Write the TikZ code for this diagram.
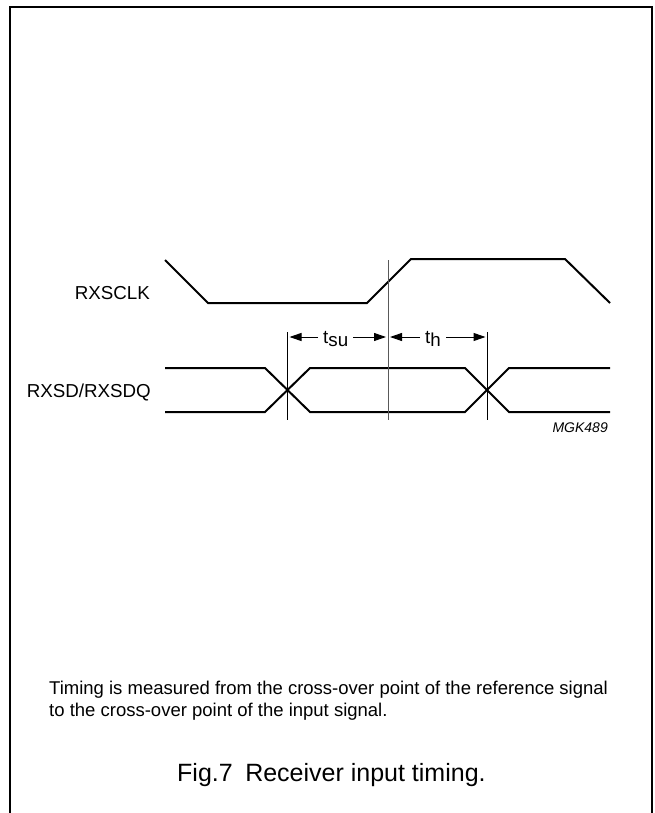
\documentclass[tikz,border=0pt]{standalone}
\usepackage{fontspec}
\setmainfont{Liberation Sans}
\usetikzlibrary{arrows.meta}
\begin{document}
\begin{tikzpicture}[x=1pt,y=-1pt,
  sig/.style={line width=2pt, line join=miter},
  guide/.style={line width=0.9pt},
  dimarrow/.style={line width=1pt, -{Triangle[length=12pt,width=8pt]}},
  lbl/.style={inner sep=0pt, font=\fontsize{18.75}{22}\selectfont},
  notetxt/.style={inner sep=0pt, align=left, font=\fontsize{18.5}{22}\selectfont},
  captxt/.style={inner sep=0pt, font=\fontsize{25}{30}\selectfont},
  codetxt/.style={inner sep=0pt, font=\fontsize{14}{16}\selectfont\itshape},
 ]
\useasboundingbox (0,0) rectangle (655,813);
% frame
\draw[line width=1.6pt] (10,813) -- (10,7) -- (652,7) -- (652,813);
% signal labels
\node[lbl, anchor=base east] (clklbl) at (150,299) {RXSCLK};
\node[lbl, anchor=base east] (datlbl) at (151,397) {RXSD/RXSDQ};
% clock waveform
\draw[sig] (165,260) -- (208,303) -- (367,303) -- (411,259) -- (565,259) -- (610,303);
% data waveform
\draw[sig] (165,368) -- (265,368) -- (310,412) -- (465,412) -- (509,368) -- (610,368);
\draw[sig] (165,412) -- (265,412) -- (310,368) -- (465,368) -- (509,412) -- (610,412);
% reference lines
\coordinate (ref top) at (388,260);
\coordinate (ref bot) at (388,420);
\coordinate (x1 top) at (287,332);
\coordinate (x1 bot) at (287,420);
\coordinate (x2 top) at (487,332);
\coordinate (x2 bot) at (487,420);
\draw[guide, black!65] (ref top) -- (ref bot);
\draw[guide] (x1 top) -- (x1 bot);
\draw[guide] (x2 top) -- (x2 bot);
% timing labels
\node[lbl, anchor=base west] (tsu) at (323,343) {t\raisebox{-3.5pt}{su}};
\node[lbl, anchor=base west] (th) at (425,343) {t\raisebox{-3.5pt}{h}};
\coordinate (a1) at (289.5,337);
\coordinate (a2) at (386,337);
\coordinate (a3) at (390,337);
\coordinate (a4) at (485.5,337);
\draw[dimarrow] (tsu.west |- a1) ++(-5,0) -- (a1);
\draw[dimarrow] (tsu.east |- a2) ++(5,0) -- (a2);
\draw[dimarrow] (th.west |- a3) ++(-5,0) -- (a3);
\draw[dimarrow] (th.east |- a4) ++(5,0) -- (a4);
% figure code
\node[codetxt, anchor=base east] (code) at (608,432) {MGK489};
% note
\node[notetxt, anchor=base west] (note1) at (49,694) {Timing is measured from the cross-over point of the reference signal};
\node[notetxt, anchor=base west] (note2) at (49,716) {to the cross-over point of the input signal.};
% caption
\node[captxt, anchor=base west] (cap) at (177,781) {Fig.7\hspace{0.5em}Receiver input timing.};
\end{tikzpicture}
\end{document}
